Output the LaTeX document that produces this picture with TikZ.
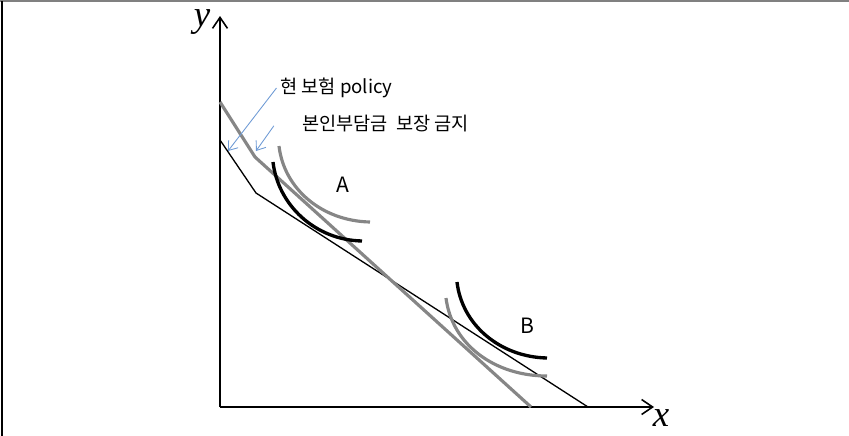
\documentclass[tikz,border=0pt]{standalone}
\usepackage{fontspec}
\setmainfont{Liberation Serif}
\newfontfamily\krfont{Noto Sans CJK KR}
\usetikzlibrary{positioning,arrows.meta,calc}

\begin{document}
\begin{tikzpicture}[
  x=0.02cm, y=-0.02cm,
  axis/.style={-{Straight Barb[length=2.2mm,width=3mm]}, line width=0.9pt},
  budget/.style={line width=0.75pt},
  newbudget/.style={line width=1.8pt, draw=gray!95},
  icurve/.style={line width=1.9pt},
  icgray/.style={line width=1.8pt, draw=gray!95},
  note/.style={font=\krfont\fontsize{10.6}{12}\selectfont, anchor=west, inner sep=0pt},
  pt/.style={font=\krfont\fontsize{12}{14}\selectfont, inner sep=0pt},
  pointer/.style={-{Straight Barb[length=1.6mm,width=2.4mm]}, draw={rgb,255:red,111;green,155;blue,213}, line width=0.5pt}
]
\useasboundingbox (0,0) rectangle (849,436);
\draw[gray, line width=1pt] (0,1) -- (849,1);
\draw[black, line width=1pt] (2,1) -- (2,436);

% axes
\coordinate (O) at (220,407);
\coordinate (yTop) at (220,16);
\coordinate (xEnd) at (654,407);
\draw[axis] (O) -- (yTop);
\draw[axis] (O) -- (xEnd);
\node[font=\fontsize{21}{24}\selectfont\itshape] (ylab) at (202,22) {y};
\node[font=\fontsize{21}{24}\selectfont\itshape] (xlab) at (661,418) {x};

% budget lines
\coordinate (bStart) at (220,140);
\coordinate (bKink) at (256,193);
\coordinate (bEnd) at (588,407);
\coordinate (gStart) at (220,102);
\coordinate (gKink) at (255,157);
\coordinate (gEnd) at (531,407);
\draw[budget] (bStart) -- (bKink) -- (bEnd);
\draw[newbudget] (gStart) -- (gKink) -- (gEnd);

% indifference curves
\draw[icgray] (279,146) .. controls (284,189) and (322,221) .. (370,222);
\draw[icurve] (273,162) .. controls (278,205) and (315,240) .. (362,241);
\draw[icgray] (446,298) .. controls (452,345) and (495,376) .. (547,376);
\draw[icurve] (457,282) .. controls (462,325) and (500,357) .. (547,358);

\node[pt] (labA) at (343,185) {A};
\node[pt] (labB) at (527,326) {B};

% notes
\node[note] (noteNow) at (280,88) {현 보험 policy};
\node[note] (noteBan) at (302,124) {본인부담금\ \ 보장 금지};
\coordinate (tipNow) at (228,151);
\coordinate (tipBan) at (256,151);
\draw[pointer] ([xshift=-2]noteNow.west) -- (tipNow);
\draw[pointer] ([xshift=-16,yshift=-1]noteBan.west) -- (tipBan);
\end{tikzpicture}
\end{document}
